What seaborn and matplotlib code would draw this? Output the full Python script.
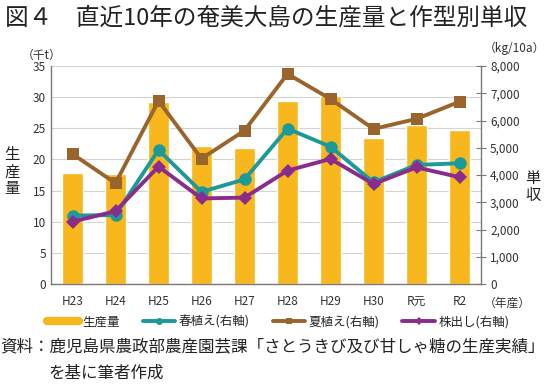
import numpy as np
import pandas as pd
import seaborn as sns
import matplotlib.pyplot as plt
from matplotlib.lines import Line2D

# data
years = ["H23", "H24", "H25", "H26", "H27", "H28", "H29", "H30", "R元", "R2"]
production = [17.9, 17.7, 29.3, 22.2, 21.8, 29.4, 30.2, 23.5, 25.6, 24.7]  # 千t
spring = [2510, 2530, 4920, 3380, 3840, 5700, 5040, 3730, 4370, 4430]     # kg/10a
summer = [4770, 3700, 6720, 4600, 5630, 7710, 6790, 5690, 6060, 6690]
ratoon = [2290, 2670, 4310, 3140, 3170, 4160, 4590, 3670, 4280, 3920]

BAR_C = "#F7B71D"
SPRING_C = "#1C9A98"
SUMMER_C = "#9A652C"
RATOON_C = "#8A2C8E"
GRID_C = "#D4D4D4"
SPINE_C = "#7A7A7A"

sns.set_style("white")
plt.rcParams['font.family'] = ['Noto Sans CJK JP', 'DejaVu Sans']

fig = plt.figure(figsize=(5.46, 3.86), dpi=100)
ax = fig.add_axes([51 / 546, 1 - 284 / 386, 430 / 546, 218 / 386])

df = pd.DataFrame({"year": years, "production": production})
sns.barplot(data=df, x="year", y="production", color=BAR_C, width=0.47,
            saturation=1, ax=ax, zorder=2)
ax.set_ylim(0, 35)
ax.set_yticks(np.arange(0, 36, 5))
ax.set_xlim(-0.5, len(years) - 0.5)
ax.yaxis.grid(True, color=GRID_C, lw=0.8, zorder=0)
ax.set_axisbelow(True)
ax.set_xlabel("")
ax.set_ylabel("")
ax.tick_params(axis="both", length=0, labelsize=8.5, colors="#333333")
ax.tick_params(axis="x", pad=8)
for s in ["top", "right"]:
    ax.spines[s].set_visible(False)
for s in ["left", "bottom"]:
    ax.spines[s].set_color(SPINE_C)
    ax.spines[s].set_linewidth(1.0)

ax2 = ax.twinx()
x = np.arange(len(years))
sns.lineplot(x=x, y=summer, color=SUMMER_C, lw=2.8, marker="s", markersize=9,
             markeredgewidth=0, ax=ax2, zorder=3)
sns.lineplot(x=x, y=spring, color=SPRING_C, lw=2.8, marker="o", markersize=9,
             markeredgewidth=0, ax=ax2, zorder=4)
sns.lineplot(x=x, y=ratoon, color=RATOON_C, lw=2.8, marker="D", markersize=7,
             markeredgewidth=0, ax=ax2, zorder=5)
ax2.set_ylim(0, 8000)
ax2.set_yticks(np.arange(0, 8001, 1000))
ax2.set_yticklabels([f"{v:,}" for v in range(0, 8001, 1000)])
ax2.tick_params(axis="y", direction="inout", length=7, width=0.8, color=SPINE_C,
                labelsize=8.5, labelcolor="#333333", pad=3)
for s in ["top", "left", "bottom"]:
    ax2.spines[s].set_visible(False)
ax2.spines["right"].set_color(SPINE_C)
ax2.spines["right"].set_linewidth(1.0)
ax2.set_xlim(-0.5, len(years) - 0.5)

# texts around the chart
fig.text(5 / 546, 1 - 18 / 386, "図４　直近10年の奄美大島の生産量と作型別単収",
         fontsize=17, va="center", ha="left", color="#222222")
fig.text(22 / 546, 1 - 55 / 386, "（千t）", fontsize=8.5, va="center", ha="left", color="#333333")
fig.text(545 / 546, 1 - 48 / 386, "（kg/10a）", fontsize=8.5, va="center", ha="right", color="#333333")
fig.text(12 / 546, 1 - 172 / 386, "生\n産\n量", fontsize=11, va="center", ha="center",
         linespacing=1.0, color="#222222")
fig.text(533 / 546, 1 - 187 / 386, "単\n収", fontsize=11, va="center", ha="center",
         linespacing=1.0, color="#222222")
fig.text(507 / 546, 1 - 303 / 386, "（年産）", fontsize=8.5, va="center", ha="center", color="#333333")

handles = [
    Line2D([0], [0], color=BAR_C, lw=6),
    Line2D([0], [0], color=SPRING_C, lw=2.8, marker="o", markersize=5, markeredgewidth=0),
    Line2D([0], [0], color=SUMMER_C, lw=2.8, marker="s", markersize=5, markeredgewidth=0),
    Line2D([0], [0], color=RATOON_C, lw=2.8, marker="D", markersize=4, markeredgewidth=0),
]
labels = ["生産量", "春植え(右軸)", "夏植え(右軸)", "株出し(右軸)"]
fig.legend(handles, labels, loc="center", bbox_to_anchor=(278 / 546, 1 - 322 / 386),
           ncol=4, frameon=False, fontsize=9, handlelength=2.6, handletextpad=0.3,
           columnspacing=1.8)

fig.text(0, 1 - 348 / 386, "資料：鹿児島県農政部農産園芸課「さとうきび及び甘しゃ糖の生産実績」",
         fontsize=11.9, va="center", ha="left", color="#222222")
fig.text(48 / 546, 1 - 373 / 386, "を基に筆者作成",
         fontsize=11.9, va="center", ha="left", color="#222222")

fig.savefig("out.png", dpi=100)
